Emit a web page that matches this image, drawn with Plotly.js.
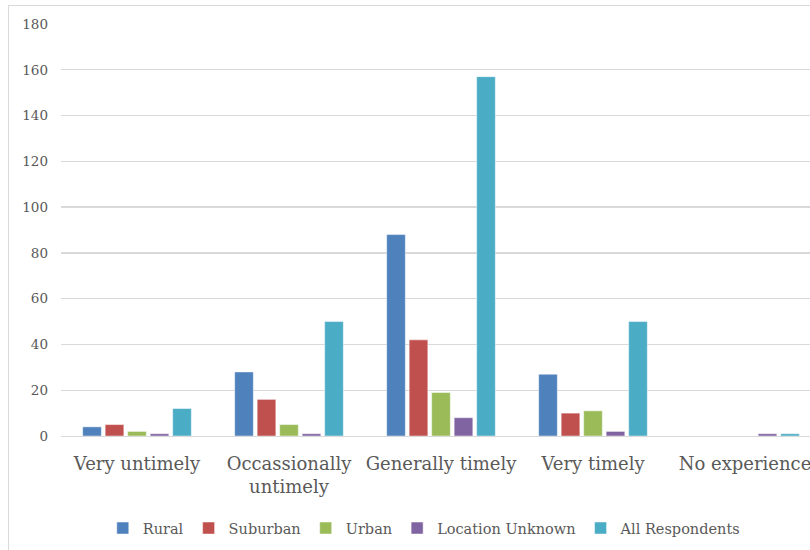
<!DOCTYPE html>
<html>
<head>
<meta charset="utf-8">
<script src="https://cdn.plot.ly/plotly-3.0.1.min.js"></script>
<style>
html, body { margin: 0; padding: 0; overflow: hidden; background: #fff; width: 810px; height: 550px; }
#wrap { position: absolute; left: 8px; top: 5px; border-left: 1px solid #d9d9d9; border-top: 1px solid #d9d9d9; }
#chart { width: 840px; height: 545px; }
</style>
</head>
<body>
<div id="wrap"><div id="chart"></div></div>
<script>
var categories = ["Very untimely", "Occassionally<br>untimely", "Generally timely", "Very timely", "No experience"];
var rural = [4, 28, 88, 27, 0];
var suburban = [5, 16, 42, 10, 0];
var urban = [2, 5, 19, 11, 0];
var locationUnknown = [1, 1, 8, 2, 1];
var allRespondents = [12, 50, 157, 50, 1];
var seriesNames = ["Rural", "Suburban", "Urban", "Location Unknown", "All Respondents"];
var seriesColors = ["#4f81bd", "#c0504d", "#9bbb59", "#8064a2", "#4bacc6"];
var seriesValues = [rural, suburban, urban, locationUnknown, allRespondents];
var yTicks = [0, 20, 40, 60, 80, 100, 120, 140, 160, 180];

var traces = seriesValues.map(function (vals, i) {
  return {
    type: "bar",
    name: seriesNames[i],
    x: categories,
    y: vals,
    marker: { color: seriesColors[i], line: { color: "rgba(255,255,255,0.6)", width: 0.8 } },
    hoverinfo: "y+name"
  };
});

var layout = {
  width: 840,
  height: 545,
  margin: { l: 52, r: 28, t: 18, b: 114.5, autoexpand: false },
  paper_bgcolor: "#ffffff",
  plot_bgcolor: "#ffffff",
  barmode: "group",
  bargap: 0.26,
  bargroupgap: 0.17,
  font: { family: "DejaVu Serif, serif", color: "#595959" },
  xaxis: {
    type: "category",
    range: [-0.5, 4.5],
    showgrid: false,
    showline: true,
    linecolor: "#d9d9d9",
    linewidth: 1.3,
    ticks: "",
    tickfont: { size: 18, color: "#595959", family: "DejaVu Serif, serif" },
    ticklabelstandoff: 11,
    fixedrange: true
  },
  yaxis: {
    range: [0, 180],
    tickvals: yTicks,
    ticktext: yTicks.map(String),
    showgrid: true,
    gridcolor: "#d9d9d9",
    gridwidth: 1.3,
    zeroline: false,
    showline: false,
    ticks: "",
    tickfont: { size: 13.5, color: "#595959", family: "DejaVu Serif, serif" },
    ticklabelstandoff: 12,
    fixedrange: true
  },
  showlegend: true,
  legend: {
    orientation: "h",
    x: 0.478,
    xanchor: "center",
    yref: "container",
    y: 0.042,
    yanchor: "middle",
    itemwidth: 30,
    font: { size: 14.5, color: "#595959", family: "DejaVu Serif, serif" },
    traceorder: "normal"
  }
};

Plotly.newPlot("chart", traces, layout, { displayModeBar: false, staticPlot: true });
</script>
</body>
</html>
